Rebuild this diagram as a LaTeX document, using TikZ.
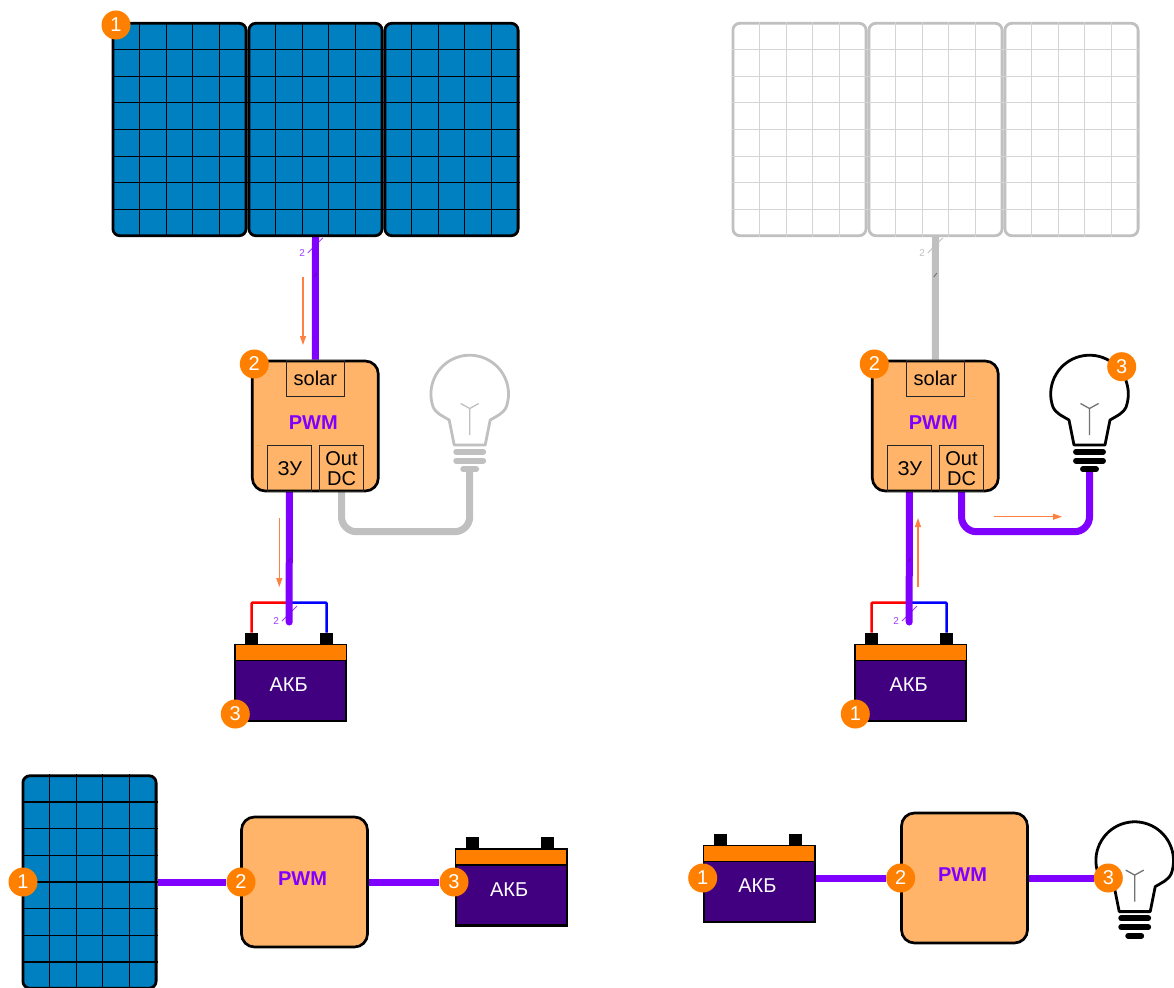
\documentclass[tikz,border=0pt]{standalone}
\usepackage{fontspec}
\setmainfont{Liberation Sans}
\usetikzlibrary{arrows.meta,backgrounds}

\definecolor{panelblue}{HTML}{0080C0}
\definecolor{pwmfill}{HTML}{FFB469}
\definecolor{wirepurple}{HTML}{8000FF}
\definecolor{badgeorange}{HTML}{FF8000}
\definecolor{akbindigo}{HTML}{400080}
\definecolor{flowcolor}{HTML}{FF8040}
\definecolor{offgray}{HTML}{C0C0C0}
\definecolor{offgrid}{HTML}{D4D4D4}
\definecolor{markpurple}{HTML}{A040FF}

\tikzset{
    every node/.style={font=\fontsize{20}{20}\selectfont, inner sep=0pt},
    panelbox/.style={draw, line width=2.8, rounded corners=7, minimum width=133.2, minimum height=212.5},
    gridline/.style={line width=1.2},
    pwmbox/.style={draw=black, fill=pwmfill, line width=2.7, rounded corners=13, minimum width=126, minimum height=130},
    pwmtext/.style={text=wirepurple, font=\fontsize{20}{20}\selectfont\bfseries},
    portbox/.style={draw=black!85, line width=.9, minimum height=46, minimum width=44.3, align=center},
    akbbox/.style={draw=black, fill=akbindigo, line width=2.2, minimum width=111, minimum height=76},
    bandbox/.style={draw=black, fill=badgeorange, line width=1.2, minimum width=111, minimum height=16, anchor=north},
    postbox/.style={fill=black, minimum width=13, minimum height=11, anchor=south},
    badge/.style={circle, fill=badgeorange, text=white, minimum size=29},
    wire/.style={line width=7, draw=wirepurple},
    offwire/.style={line width=7, draw=offgray},
    flow/.style={line width=1.1, draw=flowcolor, -{Triangle[length=9pt,width=6pt]}},
    polewire/.style={line width=2.5, rounded corners=1}
}

\newcommand{\solarpanel}[6]{
    \node[panelbox, draw=#4, fill=#5] (#1) at (#2,#3) {};
    \foreach \dx in {-40,-13.3,13.3,40}
        \draw[gridline, draw=#6] ([xshift=\dx]#1.north) -- ([xshift=\dx]#1.south);
    \foreach \dy in {-80,-53.3,-26.7,0,26.7,53.3,80}
        \draw[gridline, draw=#6] ([yshift=\dy]#1.west) -- ([yshift=\dy]#1.east);
}

\newcommand{\pwmunit}[3]{
    \node[pwmbox] (#1) at (#2,#3) {};
    \node[pwmtext] (#1txt) at (#2-2,#3-3.8) {PWM};
}

\newcommand{\pwmports}[3]{
    \node[portbox, minimum width=58.7, minimum height=36] (#1solar) at (#2,#3-48) {solar};
    \node[portbox] (#1zu) at (#2-26,#3+42.3) {\raisebox{-4pt}{\kern1pt ЗУ}};
    \node[portbox] (#1out) at (#2+26.2,#3+42.3) {Out\\DC};
}

\newcommand{\akb}[3]{
    \node[akbbox] (#1) at (#2,#3) {};
    \node[bandbox] (#1band) at (#1.north) {};
    \node[postbox] (#1l) at (#2-39,#3-39) {};
    \node[postbox] (#1r) at (#2+36,#3-39) {};
    \node[text=white] (#1txt) at (#2-2,#3+2) {АКБ};
}

\newcommand{\bulb}[5]{
    \begin{scope}[shift={(#2,#3)}]
        \draw[line width=2.8, draw=#4, fill=white, line join=round] (-15.5,51) -- (-20.5,26)
            .. controls (-27,22) and (-33,20) .. (-36.46,13.27)
            arc[start angle=160, end angle=380, radius=38.8]
            .. controls (33,20) and (27,22) .. (20.5,26) -- (15.5,51) -- cycle;
        \draw[line width=1.3, draw=#5] (0,41) -- (0,14.5) (-9,9.5) -- (0,14.5) -- (9,9.5);
        \draw[line width=5.9, draw=#4, line cap=round] (-13.5,57.7) -- (13.5,57.7);
        \draw[line width=5.9, draw=#4, line cap=round] (-13.5,66.7) -- (13.5,66.7);
        \draw[line width=5.9, draw=#4, line cap=round] (-6.5,75.3) -- (6.5,75.3);
        \coordinate (#1) at (0,76);
    \end{scope}
}

\newcommand{\wiremark}[5]{
    \draw[line width=.9, draw=#4] (#2-7.5,#3+7.5) -- (#2+7.5,#3-7.5);
    \node[text=#4, font=\fontsize{10}{10}\selectfont] (#1) at (#2-13.2,#3+7.5) {2};
    \coordinate (#1tick) at (#2,#5);
}

\begin{document}
\begin{tikzpicture}[x=1pt, y=-1pt]
    \useasboundingbox (0,0) rectangle (1174,987);

    \solarpanel{panelA}{179.5}{129.5}{black}{panelblue}{black}
    \solarpanel{panelB}{315.5}{129.5}{black}{panelblue}{black}
    \solarpanel{panelC}{451.5}{129.5}{black}{panelblue}{black}
    \pwmunit{pwmA}{315.3}{426}
    \pwmports{pwmA}{315.3}{426}
    \akb{akbA}{290.7}{683}
    \bulb{bulbA}{469.7}{394}{offgray}{offgray}

    \solarpanel{panelD}{799.5}{129.5}{offgray}{white}{offgrid}
    \solarpanel{panelE}{935.5}{129.5}{offgray}{white}{offgrid}
    \solarpanel{panelF}{1071.5}{129.5}{offgray}{white}{offgrid}
    \pwmunit{pwmB}{935.3}{426}
    \pwmports{pwmB}{935.3}{426}
    \akb{akbB}{910.7}{683}
    \bulb{bulbB}{1089.5}{394}{black}{black!55}

    \begin{scope}
        \clip (0,0) rectangle (1174,987);
        \solarpanel{panelG}{89.5}{882}{black}{panelblue}{black}
    \end{scope}
    \pwmunit{pwmC}{304.5}{882}
    \akb{akbC}{511.2}{887.5}

    \akb{akbD}{759.3}{883.7}
    \pwmunit{pwmD}{964.5}{878}
    \bulb{bulbD}{1134.7}{860.6}{black}{black!55}

    \coordinate (endA) at (289.2,622);
    \coordinate (endB) at (909.2,622);
    \coordinate (jointA) at (289.2,602.5);
    \coordinate (jointB) at (909.2,602.5);
    \coordinate (bendA) at (469.7,531.7);
    \coordinate (bendB) at (1089.5,531.7);

    \begin{scope}[on background layer]
        \wiremark{markA}{315.3}{245.5}{markpurple}{275}
        \wiremark{markB}{289.4}{613.5}{markpurple}{560}
        \wiremark{markC}{935.3}{245.5}{offgray}{275}
        \wiremark{markD}{909.4}{613.5}{markpurple}{560}

        \draw[polewire, draw=red] (akbAl.north) |- (jointA);
        \draw[polewire, draw=blue] (akbAr.north) |- (jointA);
        \draw[polewire, draw=red] (akbBl.north) |- (jointB);
        \draw[polewire, draw=blue] (akbBr.north) |- (jointB);

        \draw[wire] (panelB.south) -- (pwmA.north);
        \draw[wire, line cap=round] (pwmAzu.south) -- (endA);
        \draw[offwire, rounded corners=15] (pwmAout.south) |- (bendA) -- (bulbA);

        \draw[offwire] (panelE.south) -- (pwmB.north);
        \draw[wire, line cap=round] (pwmBzu.south) -- (endB);
        \draw[wire, rounded corners=15] (pwmBout.south) |- (bendB) -- (bulbB);
    \end{scope}

    \draw[line width=.9, draw=wirepurple!75!black] ([shift={(-1.5,2)}]markAtick) -- ([shift={(1.5,-2)}]markAtick);
    \draw[line width=.9, draw=wirepurple!75!black] ([shift={(-1.5,2)}]markBtick) -- ([shift={(1.5,-2)}]markBtick);
    \draw[line width=.9, draw=black!55] ([shift={(-1.5,2)}]markCtick) -- ([shift={(1.5,-2)}]markCtick);
    \draw[line width=.9, draw=wirepurple!75!black] ([shift={(-1.5,2)}]markDtick) -- ([shift={(1.5,-2)}]markDtick);

    \coordinate (flowAa) at (303,277);
    \coordinate (flowAb) at (303,345);
    \coordinate (flowBa) at (279.3,518);
    \coordinate (flowBb) at (279.3,587);
    \coordinate (flowCa) at (918,587);
    \coordinate (flowCb) at (918,518);
    \coordinate (flowDa) at (994,516.7);
    \coordinate (flowDb) at (1062,516.7);
    \draw[flow] (flowAa) -- (flowAb);
    \draw[flow] (flowBa) -- (flowBb);
    \draw[flow] (flowCa) -- (flowCb);
    \draw[flow] (flowDa) -- (flowDb);

    \node[badge] (numA) at (116,25) {1};
    \node[badge] (numB) at (254.3,364) {2};
    \node[badge] (numC) at (235.3,714) {3};

    \node[badge] (numD) at (874.3,364) {2};
    \node[badge] (numE) at (1121.7,366.7) {3};
    \node[badge] (numF) at (855.3,714) {1};

    \node[badge] (numG) at (23,882) {1};
    \node[badge] (numH) at (241,882) {2};
    \node[badge] (numI) at (454,882) {3};

    \node[badge] (numJ) at (702.7,878) {1};
    \node[badge] (numK) at (900.7,878) {2};
    \node[badge] (numL) at (1108.3,878) {3};

    \begin{scope}[on background layer]
        \draw[wire] (panelG.east) -- (numH);
        \draw[wire] (pwmC.east) -- (numI);
        \draw[wire] (akbD.east |- numK) -- (numK);
        \draw[wire] (pwmD.east) -- (numL);
    \end{scope}
\end{tikzpicture}
\end{document}
